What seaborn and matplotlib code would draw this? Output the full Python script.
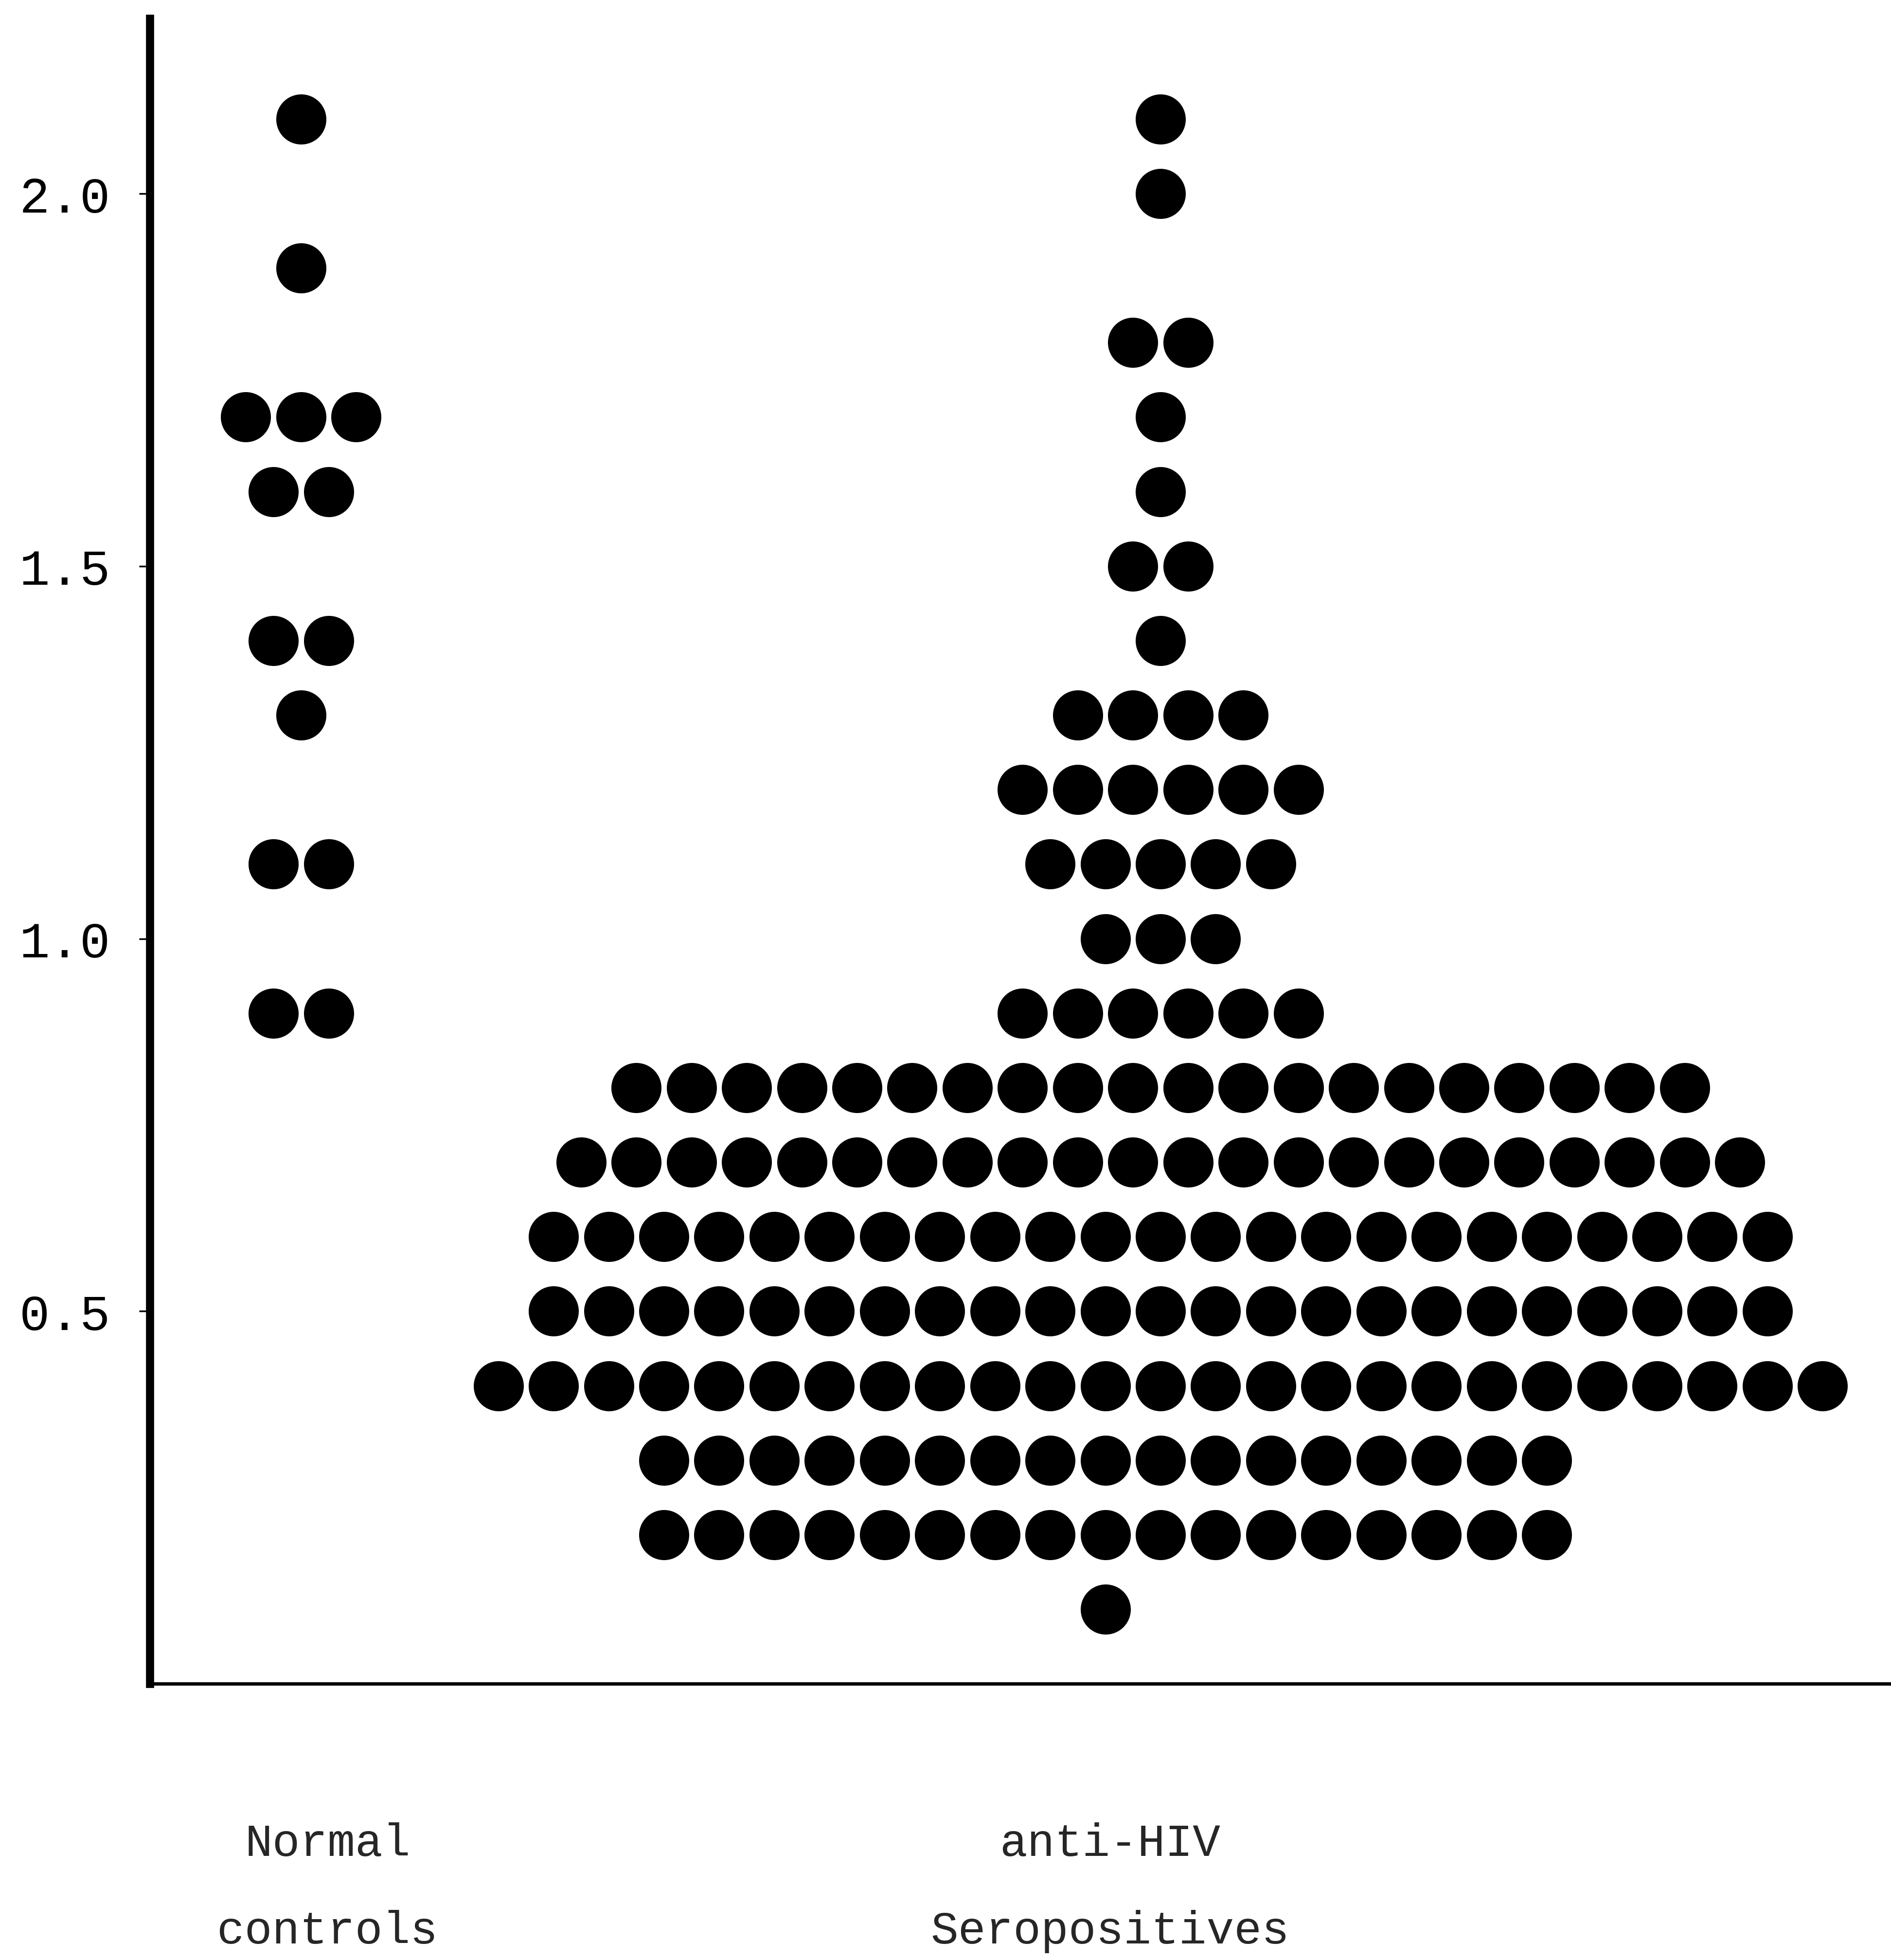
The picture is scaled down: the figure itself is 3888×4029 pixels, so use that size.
import numpy as np
import pandas as pd
import matplotlib
matplotlib.use("Agg")
import matplotlib.pyplot as plt
import seaborn as sns

# ---------------- data ----------------
groups = ["Normal\ncontrols", "anti-HIV\nSeropositives"]

normal_levels = [2.1, 1.9, 1.7, 1.6, 1.4, 1.3, 1.1, 0.9]
normal_counts = [1, 1, 3, 2, 2, 1, 2, 2]

hiv_levels = [2.1, 2.0, 1.8, 1.7, 1.6, 1.5, 1.4, 1.3, 1.2, 1.1, 1.0, 0.9,
              0.8, 0.7, 0.6, 0.5, 0.4, 0.3, 0.2, 0.1]
hiv_counts = [1, 1, 2, 1, 1, 2, 1, 4, 6, 5, 3, 6,
              20, 22, 23, 23, 25, 17, 17, 1]

yticks = [0.5, 1.0, 1.5, 2.0]

# ---------------- layout (dot-stacking) ----------------
dot_step = 0.0642                      # horizontal distance between stacked dots
hiv_row_shift = {0.3: -1, 0.2: -1, 0.1: -1}   # rows drawn one step left of centre

rows = []
for gi, (levels, counts) in enumerate([(normal_levels, normal_counts),
                                       (hiv_levels, hiv_counts)]):
    for lv, n in zip(levels, counts):
        shift = hiv_row_shift.get(lv, 0) if gi == 1 else 0
        for i in range(n):
            rows.append({"group": groups[gi], "value": lv,
                         "xpos": gi + (i - (n - 1) / 2 + shift) * dot_step})
df = pd.DataFrame(rows)

# ---------------- plot ----------------
sns.set_style("white")
plt.rcParams["font.family"] = ["Liberation Mono", "DejaVu Sans Mono", "DejaVu Sans"]

fig = plt.figure(figsize=(38.88, 40.30), dpi=100)
ax = fig.add_axes([0.0792, 0.1409, 0.9208, 0.8494])

sns.scatterplot(data=df, x="xpos", y="value", color="black", s=5500,
                linewidth=0, ax=ax, legend=False)

ax.set_xlim(-0.176, 1.850)
ax.set_ylim(0, 2.235)
ax.set_yticks(yticks)
ax.set_yticklabels([f"{v:.1f}" for v in yticks], fontsize=75)
ax.set_xticks([])
ax.set_xlabel("")
ax.set_ylabel("")

ax.tick_params(axis="y", direction="out", length=16, width=2.5, pad=42,
               colors="black", left=True)

for side in ["top", "right"]:
    ax.spines[side].set_visible(False)
ax.spines["left"].set_linewidth(12)
ax.spines["bottom"].set_linewidth(5)
ax.spines["left"].set_color("black")
ax.spines["bottom"].set_color("black")

# group labels below the axis
label_x = [0.0663, 0.2296]
for gx, lab in zip([262 / 1513, 888 / 1513], groups):
    l1, l2 = lab.split("\n")
    fig.text(gx, 1 - 1475 / 1568, l1, ha="center", va="center", fontsize=68)
    fig.text(gx, 1 - 1545 / 1568, l2, ha="center", va="center", fontsize=68)

fig.savefig("out.png", dpi=100, facecolor="white")
